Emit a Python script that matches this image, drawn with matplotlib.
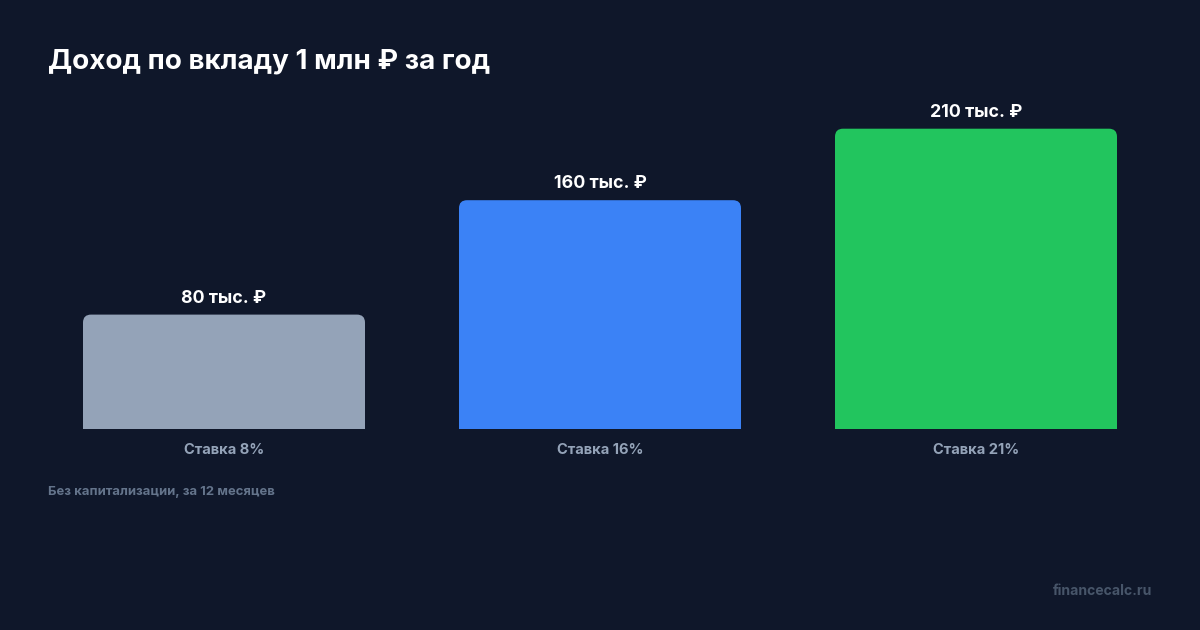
import matplotlib
matplotlib.use("Agg")
import matplotlib.pyplot as plt
from matplotlib.path import Path
from matplotlib.patches import PathPatch

plt.rcParams['font.family'] = ['Inter', 'DejaVu Sans']

categories = ["Ставка 8%", "Ставка 16%", "Ставка 21%"]
values = [80, 160, 210]  # тыс. ₽
value_labels = ["80 тыс. ₽", "160 тыс. ₽", "210 тыс. ₽"]
colors = ["#94a3b8", "#3b82f6", "#22c55e"]
title = "Доход по вкладу 1 млн ₽ за год"
footnote = "Без капитализации, за 12 месяцев"
watermark = "financecalc.ru"

BG = "#0f172a"
W, H = 1200, 630
fig = plt.figure(figsize=(12, 6.3), dpi=100, facecolor=BG)

ax_left, ax_right = 36, 1164
base_px = 429
px_per_unit = 1.43
ymax = 240
ax = fig.add_axes([ax_left / W, (H - base_px) / H, (ax_right - ax_left) / W, ymax * px_per_unit / H])
ax.set_facecolor(BG)
ax.set_xlim(-0.5, 2.5)
ax.set_ylim(0, ymax)
ax.axis("off")

x = list(range(len(categories)))
bar_w = 282 / 376
bars = ax.bar(x, values, width=bar_w, color=colors)

# replace with top-rounded versions
r_px = 8
rx = r_px / 376
ry = r_px / px_per_unit
for b, c in zip(bars, colors):
    x0, w, h = b.get_x(), b.get_width(), b.get_height()
    x1 = x0 + w
    verts = [(x0, 0), (x0, h - ry), (x0, h), (x0 + rx, h),
             (x1 - rx, h), (x1, h), (x1, h - ry), (x1, 0), (x0, 0)]
    codes = [Path.MOVETO, Path.LINETO, Path.CURVE3, Path.CURVE3,
             Path.LINETO, Path.CURVE3, Path.CURVE3, Path.LINETO, Path.CLOSEPOLY]
    ax.add_patch(PathPatch(Path(verts, codes), facecolor=c, edgecolor="none"))
    b.set_visible(False)

for xi, v, lab in zip(x, values, value_labels):
    ax.annotate(lab, xy=(xi, v), xytext=(0, 12 * 0.72), textcoords="offset points",
                ha="center", va="baseline", color="white", fontsize=12.8, fontweight="bold")

for xi, cat in zip(x, categories):
    ax.annotate(cat, xy=(xi, 0), xytext=(0, -25 * 0.72), textcoords="offset points",
                ha="center", va="baseline", color="#94a3b8", fontsize=10.6, fontweight="bold")

fig.text(48 / W, 1 - 69 / H, title, ha="left", va="baseline", color="white",
         fontsize=20, fontweight="bold")
fig.text(48 / W, 1 - 495 / H, footnote, ha="left", va="baseline", color="#64748b",
         fontsize=9.4, fontweight="bold")
fig.text(1152 / W, 1 - 595 / H, watermark, ha="right", va="baseline", color="#475569",
         fontsize=10.1, fontweight="bold")

fig.savefig("out.png", dpi=100, facecolor=BG)
